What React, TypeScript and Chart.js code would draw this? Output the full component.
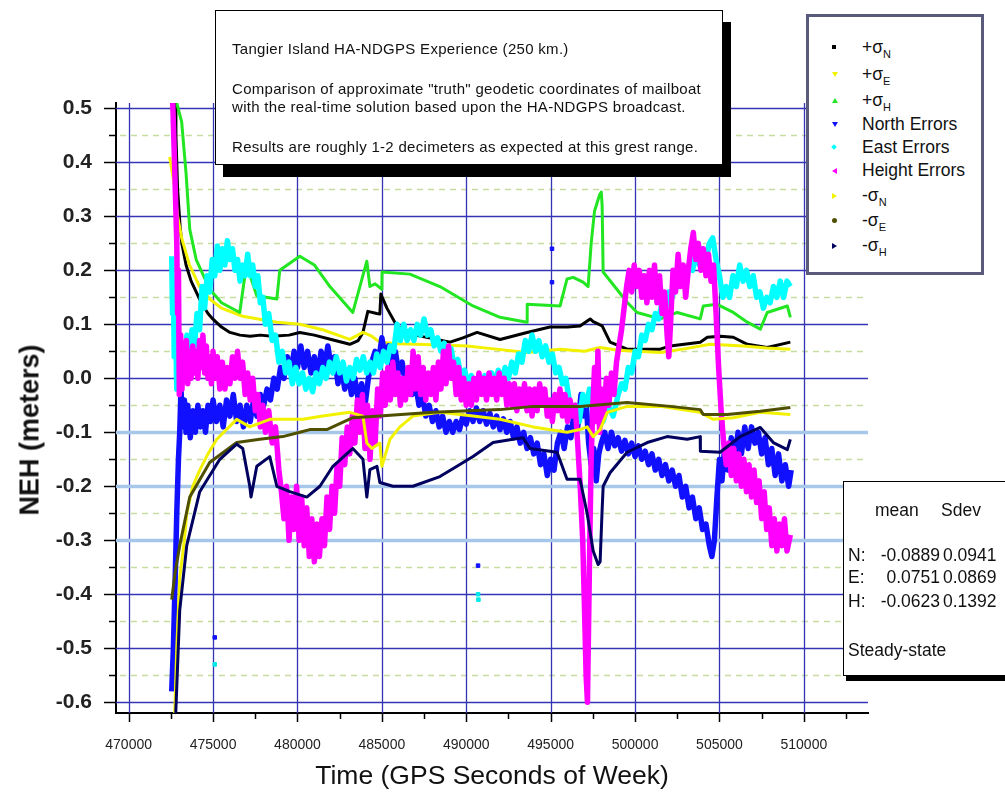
import React, { useEffect, useRef } from 'react';
import { Chart, registerables } from 'chart.js';

Chart.register(...registerables);

type P = [number, number];

// ---------- data (time in GPS seconds of week, value in meters) ----------
const plusSigmaN: P[] = [
  [472750, 0.51], [472800, 0.45], [472900, 0.35], [473050, 0.28], [473150, 0.25], [473400, 0.21],
  [473700, 0.18], [474000, 0.16], [474300, 0.14], [474700, 0.12], [474980, 0.11], [475500, 0.095],
  [476000, 0.085], [476600, 0.08], [477200, 0.078], [477800, 0.08], [478500, 0.078], [479500, 0.08],
  [480140, 0.085], [481000, 0.08], [482000, 0.072], [483100, 0.063], [483600, 0.07], [483880, 0.085],
  [484170, 0.124], [484700, 0.12], [484880, 0.119], [484940, 0.156], [485300, 0.13], [485890, 0.097],
  [487000, 0.08], [489040, 0.067], [489800, 0.075], [490640, 0.085], [492000, 0.072], [493600, 0.085],
  [494960, 0.095], [496000, 0.095], [496740, 0.097], [497340, 0.11], [497520, 0.105], [498050, 0.097],
  [498520, 0.067], [499530, 0.054], [501490, 0.054], [502080, 0.06], [503860, 0.067], [504280, 0.076],
  [505040, 0.078], [505820, 0.076], [506650, 0.063], [507830, 0.057], [509200, 0.067],
];

const plusSigmaE: P[] = [
  [472430, 0.41], [472700, 0.36], [472900, 0.3], [473140, 0.26], [473600, 0.21], [474200, 0.17],
  [474800, 0.147], [475500, 0.13], [476760, 0.115], [478000, 0.108], [478780, 0.104], [480140, 0.1],
  [481500, 0.09], [483100, 0.072], [483880, 0.085], [484400, 0.078], [484880, 0.067], [486000, 0.064],
  [488000, 0.062], [490040, 0.06], [491500, 0.055], [493600, 0.048], [495560, 0.054], [497000, 0.05],
  [497930, 0.057], [499000, 0.052], [501490, 0.048], [503000, 0.055], [504450, 0.063], [506410, 0.06],
  [507800, 0.056], [509200, 0.054],
];

const plusSigmaH: P[] = [
  [472850, 0.51], [473140, 0.475], [473400, 0.38], [473620, 0.276], [474000, 0.22], [474800, 0.165],
  [475500, 0.14], [476580, 0.122], [477000, 0.215], [477300, 0.18], [477590, 0.153], [478780, 0.147],
  [478950, 0.2], [480140, 0.226], [481000, 0.21], [481920, 0.17], [483280, 0.122], [484110, 0.217],
  [484290, 0.17], [484600, 0.175], [485000, 0.165], [485010, 0.197], [486660, 0.193], [488440, 0.17],
  [490400, 0.134], [492000, 0.113], [493600, 0.104], [493610, 0.137], [495560, 0.134], [495970, 0.184],
  [496330, 0.187], [496920, 0.178], [497220, 0.17], [497400, 0.25], [497600, 0.31], [497900, 0.34],
  [498000, 0.345], [498050, 0.32], [498110, 0.197], [499530, 0.141], [500120, 0.122], [501490, 0.11],
  [502500, 0.122], [503860, 0.11], [504040, 0.134], [504860, 0.137], [505820, 0.122], [506650, 0.104],
  [507420, 0.091], [507830, 0.122], [509020, 0.134], [509200, 0.113],
];

const northErrors: P[] = [
  [472550, -0.58], [472650, -0.5], [472750, -0.38], [472850, -0.25], [472950, -0.15], [473025, -0.1],
  [473100, -0.02], [473200, -0.09], [473300, -0.04], [473400, -0.1], [473500, -0.05], [473650, -0.11],
  [473800, -0.06], [473950, -0.1], [474100, -0.05], [474250, -0.09], [474400, -0.06], [474550, -0.1],
  [474700, -0.05], [474850, -0.08], [475000, -0.04], [475200, -0.08], [475400, -0.05], [475600, -0.09],
  [475800, -0.04], [476000, -0.07], [476200, -0.03], [476400, -0.08], [476600, -0.05], [476800, -0.09],
  [477000, -0.05], [477200, -0.08], [477400, -0.04], [477600, -0.07], [477800, -0.03], [478000, -0.05],
  [478200, -0.02], [478400, -0.04], [478600, 0.0], [478800, -0.02], [479000, 0.02], [479200, 0.0],
  [479400, 0.04], [479600, 0.01], [479800, 0.05], [480000, 0.02], [480200, 0.06], [480400, 0.02],
  [480600, 0.05], [480800, 0.01], [481000, 0.04], [481200, 0.0], [481400, 0.05], [481600, 0.02],
  [481800, 0.06], [482000, 0.02], [482200, 0.04], [482400, -0.01], [482600, 0.02], [482800, -0.02],
  [483000, 0.01], [483200, -0.03], [483400, 0.0], [483600, -0.04], [483800, -0.01], [484000, -0.05],
  [484200, 0.0], [484400, 0.03], [484600, 0.05], [484800, 0.03], [485000, 0.075], [485200, 0.04],
  [485400, 0.06], [485600, 0.02], [485800, 0.05], [486000, 0.01], [486200, 0.03], [486400, -0.01],
  [486600, 0.01], [486800, -0.03], [487000, -0.01], [487200, -0.05], [487400, -0.03], [487600, -0.07],
  [487800, -0.05], [488000, -0.08], [488200, -0.06], [488400, -0.09], [488600, -0.07], [488800, -0.1],
  [489000, -0.08], [489200, -0.1], [489400, -0.08], [489600, -0.095], [489800, -0.07], [490000, -0.085],
  [490200, -0.06], [490400, -0.08], [490600, -0.055], [490800, -0.08], [491000, -0.06], [491200, -0.085],
  [491400, -0.065], [491600, -0.09], [491800, -0.07], [492000, -0.095], [492200, -0.075], [492400, -0.1],
  [492600, -0.08], [492800, -0.11], [493000, -0.09], [493200, -0.12], [493400, -0.1], [493600, -0.13],
  [493800, -0.11], [494000, -0.14], [494200, -0.12], [494400, -0.16], [494600, -0.14], [494800, -0.18],
  [495000, -0.15], [495200, -0.17], [495400, -0.12], [495600, -0.1], [495800, -0.13], [496000, -0.09],
  [496200, -0.11], [496400, -0.06], [496600, -0.09], [496800, -0.03], [496950, -0.07], [497100, -0.04],
  [497250, -0.12], [497400, -0.16], [497550, -0.13], [497700, -0.19], [497850, -0.14], [498000, -0.12],
  [498200, -0.1], [498400, -0.13], [498600, -0.1], [498800, -0.125], [499000, -0.11], [499200, -0.135],
  [499400, -0.115], [499600, -0.14], [499800, -0.12], [500000, -0.145], [500200, -0.125], [500400, -0.15],
  [500600, -0.135], [500800, -0.16], [501000, -0.14], [501200, -0.17], [501400, -0.15], [501600, -0.18],
  [501800, -0.16], [502000, -0.19], [502200, -0.17], [502400, -0.2], [502600, -0.18], [502800, -0.22],
  [503000, -0.2], [503200, -0.24], [503400, -0.22], [503600, -0.26], [503800, -0.24], [504000, -0.28],
  [504200, -0.27], [504400, -0.31], [504550, -0.33], [504700, -0.3], [504850, -0.22], [505000, -0.15],
  [505150, -0.19], [505300, -0.13], [505500, -0.17], [505700, -0.11], [505900, -0.15], [506100, -0.1],
  [506300, -0.14], [506500, -0.09], [506700, -0.13], [506900, -0.09], [507100, -0.12], [507300, -0.1],
  [507500, -0.14], [507700, -0.11], [507900, -0.16], [508100, -0.13], [508300, -0.18], [508500, -0.14],
  [508700, -0.19], [508900, -0.16], [509100, -0.2], [509250, -0.17],
];

const northOutliers: P[] = [
  [475100, -0.48], [490700, -0.347], [495080, 0.24], [495080, 0.178],
];

const eastErrors: P[] = [
  [472550, 0.226], [472600, 0.12], [472650, 0.18], [472700, 0.04], [472780, 0.1], [472850, -0.02],
  [472950, 0.02], [473050, -0.01], [473150, 0.05], [473300, 0.02], [473450, 0.08], [473600, 0.04],
  [473750, 0.09], [473900, 0.06], [474050, 0.12], [474200, 0.09], [474350, 0.17], [474500, 0.13],
  [474650, 0.19], [474800, 0.16], [474950, 0.22], [475100, 0.19], [475250, 0.245], [475400, 0.2],
  [475550, 0.24], [475700, 0.21], [475850, 0.255], [476000, 0.22], [476150, 0.24], [476300, 0.2],
  [476450, 0.22], [476600, 0.18], [476750, 0.21], [476900, 0.19], [477050, 0.23], [477200, 0.19],
  [477350, 0.21], [477500, 0.17], [477650, 0.19], [477800, 0.14], [477950, 0.15], [478100, 0.1],
  [478300, 0.12], [478500, 0.07], [478700, 0.08], [478900, 0.03], [479100, 0.05], [479300, 0.01],
  [479500, 0.03], [479700, -0.01], [479900, 0.02], [480100, -0.01], [480300, 0.01], [480500, -0.02],
  [480700, 0.0], [480900, -0.025], [481100, 0.01], [481300, -0.01], [481500, 0.02], [481700, 0.0],
  [481900, 0.03], [482100, 0.01], [482300, 0.04], [482500, 0.01], [482700, 0.03], [482900, -0.005],
  [483100, 0.02], [483300, 0.0], [483500, 0.035], [483700, 0.015], [483900, 0.04], [484100, 0.01],
  [484300, 0.03], [484500, 0.01], [484700, 0.045], [484900, 0.02], [485100, 0.05], [485300, 0.03],
  [485500, 0.06], [485700, 0.05], [485900, 0.1], [486100, 0.07], [486300, 0.1], [486500, 0.07],
  [486700, 0.09], [486900, 0.07], [487100, 0.1], [487300, 0.08], [487500, 0.11], [487700, 0.08],
  [487900, 0.09], [488100, 0.06], [488300, 0.075], [488500, 0.05], [488700, 0.065], [488900, 0.04],
  [489100, 0.055], [489300, 0.02], [489500, 0.035], [489700, 0.0], [489900, 0.015], [490100, -0.01],
  [490300, 0.005], [490500, -0.02], [490700, 0.0], [490900, -0.02], [491100, 0.005], [491300, -0.015],
  [491500, 0.01], [491700, -0.01], [491900, 0.015], [492100, -0.005], [492300, 0.02], [492500, 0.0],
  [492700, 0.03], [492900, 0.01], [493100, 0.045], [493300, 0.03], [493500, 0.07], [493700, 0.05],
  [493900, 0.08], [494100, 0.05], [494300, 0.07], [494500, 0.04], [494700, 0.06], [494900, 0.03],
  [495100, 0.045], [495300, 0.01], [495500, 0.02], [495700, -0.01], [495900, 0.0], [496100, -0.04],
  [496300, -0.06], [496500, -0.05], [496700, -0.08], [496900, -0.03], [497100, -0.05], [497300, -0.02],
  [497500, -0.06], [497800, -0.05], [498100, -0.08], [498400, -0.05], [498700, -0.07], [499000, -0.03],
  [499200, -0.01], [499400, -0.02], [499600, 0.02], [499800, 0.01], [500000, 0.05], [500200, 0.04],
  [500400, 0.08], [500600, 0.07], [500800, 0.1], [501000, 0.09], [501200, 0.12], [501400, 0.11],
  [501600, 0.14], [501800, 0.13], [502000, 0.16], [502200, 0.15], [502400, 0.18], [502600, 0.17],
  [502800, 0.2], [503000, 0.19], [503200, 0.21], [503400, 0.2], [503600, 0.23], [503800, 0.21],
  [504000, 0.24], [504200, 0.22], [504400, 0.25], [504600, 0.26], [504800, 0.22], [505000, 0.19],
  [505200, 0.15], [505400, 0.17], [505600, 0.15], [505800, 0.19], [506000, 0.17], [506200, 0.21],
  [506400, 0.18], [506600, 0.2], [506800, 0.17], [507000, 0.19], [507200, 0.15], [507400, 0.16],
  [507600, 0.13], [507800, 0.15], [508000, 0.14], [508200, 0.17], [508400, 0.15], [508600, 0.18],
  [508800, 0.15], [509000, 0.18], [509200, 0.17],
];

const eastOutliers: P[] = [
  [475100, -0.53], [490700, -0.4], [490720, -0.41],
];

const heightErrors: P[] = [
  [472610, 0.51], [472700, 0.42], [472780, 0.33], [472850, 0.25], [472900, 0.12], [472950, 0.2],
  [473000, -0.03], [473080, 0.08], [473160, -0.02], [473250, 0.06], [473330, 0.0], [473420, 0.07],
  [473500, -0.01], [473600, 0.05], [473700, 0.0], [473800, 0.06], [473900, 0.01], [474000, 0.05],
  [474100, 0.0], [474200, 0.07], [474300, 0.02], [474400, 0.08], [474500, 0.01], [474600, 0.06],
  [474700, 0.0], [474800, 0.04], [474900, -0.01], [475000, 0.05], [475100, 0.0], [475250, 0.04],
  [475400, -0.02], [475550, 0.03], [475700, -0.02], [475850, 0.02], [476000, -0.01], [476150, 0.04],
  [476300, 0.0], [476450, 0.05], [476600, 0.0], [476750, 0.03], [476900, -0.03], [477050, 0.01],
  [477200, -0.04], [477350, 0.0], [477500, -0.06], [477650, -0.03], [477800, -0.09], [477950, -0.05],
  [478100, -0.1], [478300, -0.06], [478500, -0.12], [478700, -0.09], [478900, -0.17], [479050, -0.21],
  [479200, -0.26], [479350, -0.2], [479500, -0.3], [479650, -0.22], [479800, -0.28], [479950, -0.2],
  [480100, -0.3], [480250, -0.22], [480400, -0.31], [480550, -0.24], [480700, -0.33], [480850, -0.26],
  [481000, -0.34], [481150, -0.27], [481300, -0.33], [481450, -0.26], [481600, -0.31], [481750, -0.22],
  [481900, -0.28], [482050, -0.2], [482200, -0.25], [482350, -0.16], [482500, -0.2], [482650, -0.11],
  [482800, -0.16], [482950, -0.09], [483100, -0.14], [483250, -0.07], [483400, -0.12], [483550, -0.04],
  [483700, -0.1], [483850, -0.03], [484000, -0.13], [484150, -0.05], [484300, -0.15], [484450, -0.06],
  [484600, -0.12], [484750, -0.02], [484900, -0.07], [485050, 0.01], [485200, -0.05], [485350, 0.02],
  [485500, -0.04], [485650, 0.03], [485800, -0.03], [485950, 0.01], [486100, -0.05], [486250, 0.0],
  [486400, -0.04], [486550, 0.02], [486700, -0.03], [486850, 0.05], [487000, -0.02], [487150, 0.04],
  [487300, -0.03], [487450, 0.02], [487600, -0.04], [487750, 0.01], [487900, -0.03], [488050, 0.02],
  [488200, -0.04], [488350, 0.03], [488500, -0.02], [488650, 0.05], [488800, -0.01], [488950, 0.06],
  [489100, 0.0], [489250, 0.03], [489400, -0.03], [489550, 0.02], [489700, -0.04], [489850, 0.0],
  [490000, -0.05], [490150, -0.01], [490300, -0.05], [490450, 0.0], [490600, -0.04], [490750, 0.01],
  [490900, -0.03], [491050, 0.0], [491200, -0.04], [491350, 0.01], [491500, -0.03], [491650, 0.0],
  [491800, -0.04], [491950, 0.01], [492100, -0.03], [492250, 0.0], [492400, -0.05], [492550, -0.01],
  [492700, -0.05], [492850, -0.01], [493000, -0.06], [493150, -0.02], [493300, -0.05], [493450, -0.01],
  [493600, -0.06], [493750, -0.02], [493900, -0.07], [494050, -0.02], [494200, -0.06], [494350, -0.01],
  [494500, -0.05], [494650, -0.02], [494800, -0.07], [494950, -0.04], [495100, -0.08], [495250, -0.03],
  [495400, -0.06], [495550, -0.02], [495700, -0.07], [495850, -0.03], [496000, -0.08], [496150, -0.04],
  [496300, -0.07], [496450, -0.05], [496600, -0.12], [496750, -0.2], [496900, -0.3], [497000, -0.42],
  [497100, -0.55], [497180, -0.6], [497250, -0.45], [497320, -0.3], [497400, -0.15], [497500, -0.05],
  [497600, 0.02], [497700, -0.08], [497800, 0.05], [497900, -0.1], [498000, -0.02], [498150, -0.07],
  [498300, 0.0], [498450, -0.05], [498600, 0.01], [498750, -0.03], [498900, 0.03], [499050, 0.06],
  [499200, 0.09], [499350, 0.13], [499500, 0.17], [499650, 0.2], [499800, 0.16], [499950, 0.21],
  [500100, 0.17], [500250, 0.2], [500400, 0.15], [500550, 0.19], [500700, 0.14], [500850, 0.2],
  [501000, 0.15], [501150, 0.21], [501300, 0.14], [501450, 0.19], [501600, 0.12], [501750, 0.16],
  [501900, 0.08], [502000, 0.04], [502100, 0.1], [502250, 0.2], [502400, 0.16], [502550, 0.23],
  [502700, 0.17], [502850, 0.21], [503000, 0.15], [503150, 0.2], [503300, 0.24], [503450, 0.27],
  [503600, 0.22], [503750, 0.25], [503900, 0.2], [504050, 0.24], [504200, 0.19], [504350, 0.23],
  [504500, 0.18], [504650, 0.21], [504800, 0.12], [504950, 0.02], [505100, -0.06], [505250, -0.12],
  [505400, -0.16], [505550, -0.12], [505700, -0.18], [505850, -0.13], [506000, -0.19], [506150, -0.14],
  [506300, -0.2], [506450, -0.15], [506600, -0.21], [506750, -0.16], [506900, -0.22], [507050, -0.17],
  [507200, -0.23], [507350, -0.19], [507500, -0.26], [507650, -0.21], [507800, -0.28], [507950, -0.24],
  [508100, -0.31], [508250, -0.26], [508400, -0.32], [508550, -0.27], [508700, -0.31], [508850, -0.26],
  [509000, -0.32], [509200, -0.29],
];

const minusSigmaN: P[] = [
  [472730, -0.62], [472850, -0.5], [473025, -0.37], [473300, -0.3], [473440, -0.25], [473800, -0.2],
  [474210, -0.17], [474700, -0.14], [475220, -0.113], [476400, -0.076], [477175, -0.09], [478360, -0.076],
  [480320, -0.076], [481500, -0.07], [483100, -0.063], [483880, -0.07], [484110, -0.12], [484410, -0.13],
  [484880, -0.12], [485000, -0.163], [485480, -0.113], [486070, -0.09], [486840, -0.07], [488440, -0.063],
  [490400, -0.07], [492000, -0.076], [493960, -0.09], [495970, -0.1], [496740, -0.095], [497160, -0.09],
  [497520, -0.108], [497930, -0.095], [498350, -0.063], [499530, -0.052], [501490, -0.052], [503860, -0.063],
  [504630, -0.076], [505820, -0.073], [507420, -0.063], [509200, -0.067],
];

const minusSigmaE: P[] = [
  [472550, -0.41], [472750, -0.36], [473025, -0.31], [473620, -0.22], [474800, -0.156], [476400, -0.119],
  [477770, -0.113], [479130, -0.108], [480140, -0.1], [480730, -0.095], [481740, -0.095], [483280, -0.073],
  [484880, -0.07], [488030, -0.063], [492000, -0.058], [493960, -0.052], [496740, -0.052], [499530, -0.045],
  [502080, -0.052], [503860, -0.058], [504040, -0.067], [505460, -0.067], [507420, -0.061], [509200, -0.054],
];

const minusSigmaH: P[] = [
  [472790, -0.62], [473025, -0.43], [473440, -0.31], [474210, -0.21], [475400, -0.15], [476400, -0.122],
  [476760, -0.13], [477175, -0.2], [477250, -0.22], [477590, -0.163], [478360, -0.145], [478780, -0.2],
  [479550, -0.21], [480555, -0.22], [481330, -0.2], [482100, -0.163], [483280, -0.13], [483880, -0.15],
  [484110, -0.22], [484290, -0.169], [484710, -0.163], [484880, -0.193], [485660, -0.2], [486840, -0.2],
  [488440, -0.182], [489450, -0.163], [490400, -0.145], [491590, -0.119], [492770, -0.113], [493360, -0.11],
  [493780, -0.13], [495380, -0.137], [495970, -0.187], [496740, -0.187], [497160, -0.25], [497520, -0.32],
  [497810, -0.345], [497930, -0.34], [498050, -0.243], [498110, -0.2], [498520, -0.175], [499530, -0.137],
  [500720, -0.119], [501900, -0.108], [503090, -0.113], [503860, -0.108], [503870, -0.135], [505040, -0.137],
  [506230, -0.108], [507420, -0.091], [508190, -0.119], [509020, -0.132], [509200, -0.113],
];

// ---------- axes ----------
const xMin = 469250;
const xMax = 513800;
const yMin = -0.62;
const yMax = 0.51;
const xMajorTicks = [470000, 475000, 480000, 485000, 490000, 495000, 500000, 505000, 510000];
const xMinorTicks = [472500, 477500, 482500, 487500, 492500, 497500, 502500, 507500, 512500];
const yMajorTicks = [0.5, 0.4, 0.3, 0.2, 0.1, 0.0, -0.1, -0.2, -0.3, -0.4, -0.5, -0.6];
const yMinorTicks = [0.45, 0.35, 0.25, 0.15, 0.05, -0.05, -0.15, -0.25, -0.35, -0.45, -0.55];
const yLightLines = [-0.1, -0.2, -0.3];

const FONT = "'Liberation Sans', Arial, sans-serif";

type Marker = 'square' | 'tri-up' | 'tri-down' | 'tri-left' | 'tri-right' | 'circle' | 'diamond';

const SERIES: { name: string; sign?: string; sub?: string; data: P[]; color: string; width: number; marker: Marker }[] = [
  { name: '+σN', sign: '+σ', sub: 'N', data: plusSigmaN, color: '#000000', width: 3, marker: 'square' },
  { name: '+σE', sign: '+σ', sub: 'E', data: plusSigmaE, color: '#f2f200', width: 3, marker: 'tri-down' },
  { name: '+σH', sign: '+σ', sub: 'H', data: plusSigmaH, color: '#22e622', width: 3, marker: 'tri-up' },
  { name: 'North Errors', data: northErrors, color: '#1010ff', width: 5.5, marker: 'tri-down' },
  { name: 'East Errors', data: eastErrors, color: '#00ffff', width: 5.5, marker: 'diamond' },
  { name: 'Height Errors', data: heightErrors, color: '#ff00ff', width: 5.5, marker: 'tri-left' },
  { name: '-σN', sign: '-σ', sub: 'N', data: minusSigmaN, color: '#f2f200', width: 3, marker: 'tri-right' },
  { name: '-σE', sign: '-σ', sub: 'E', data: minusSigmaE, color: '#4f4f00', width: 3, marker: 'circle' },
  { name: '-σH', sign: '-σ', sub: 'H', data: minusSigmaH, color: '#00005e', width: 3, marker: 'tri-right' },
];

const LEGEND_ROWS = [47, 74, 100, 124, 147, 170, 195, 220, 245];

const gridPlugin = {
  id: 'customGrid',
  beforeDatasetsDraw(chart: any) {
    const { ctx, chartArea: a, scales } = chart;
    const x = scales.x;
    const y = scales.y;
    ctx.save();
    ctx.setLineDash([6, 5]);
    ctx.strokeStyle = '#c6dca0';
    ctx.lineWidth = 1.5;
    for (const v of yMinorTicks) {
      const py = Math.round(y.getPixelForValue(v)) + 0.5;
      ctx.beginPath();
      ctx.moveTo(a.left + 4, py);
      ctx.lineTo(a.right, py);
      ctx.stroke();
    }
    ctx.setLineDash([]);
    ctx.strokeStyle = '#3434b4';
    ctx.lineWidth = 1.3;
    for (const v of xMajorTicks) {
      const px = Math.round(x.getPixelForValue(v)) + 0.5;
      ctx.beginPath();
      ctx.moveTo(px, a.top);
      ctx.lineTo(px, a.bottom);
      ctx.stroke();
    }
    for (const v of yMajorTicks) {
      const light = yLightLines.some((l) => Math.abs(l - v) < 1e-9);
      const py = Math.round(y.getPixelForValue(v)) + 0.5;
      ctx.strokeStyle = light ? '#a6c6ea' : '#3434b4';
      ctx.lineWidth = light ? 3.5 : 1.3;
      ctx.beginPath();
      ctx.moveTo(a.left, py);
      ctx.lineTo(a.right, py);
      ctx.stroke();
    }
    ctx.restore();
  },
  afterDraw(chart: any) {
    const { ctx, chartArea: a, scales } = chart;
    const x = scales.x;
    const y = scales.y;
    ctx.save();
    ctx.strokeStyle = '#000';
    ctx.lineWidth = 1.5;
    const drawY = (v: number, len: number) => {
      const py = Math.round(y.getPixelForValue(v)) + 0.5;
      ctx.beginPath();
      ctx.moveTo(a.left - len, py);
      ctx.lineTo(a.left, py);
      ctx.stroke();
    };
    const drawX = (v: number, len: number) => {
      const px = Math.round(x.getPixelForValue(v)) + 0.5;
      ctx.beginPath();
      ctx.moveTo(px, a.bottom);
      ctx.lineTo(px, a.bottom + len);
      ctx.stroke();
    };
    yMajorTicks.forEach((v) => drawY(v, 12));
    yMinorTicks.forEach((v) => drawY(v, 7));
    xMajorTicks.forEach((v) => drawX(v, 9));
    xMinorTicks.forEach((v) => drawX(v, 6));
    ctx.fillStyle = '#222';
    ctx.font = `14px ${FONT}`;
    ctx.textAlign = 'center';
    ctx.textBaseline = 'middle';
    xMajorTicks.forEach((v) => {
      ctx.fillText(String(v), x.getPixelForValue(v), a.bottom + 32);
    });
    ctx.restore();
  },
};

function MarkerIcon({ shape, color }: { shape: Marker; color: string }) {
  const base: React.CSSProperties = { position: 'absolute', left: 0, top: 0, width: 0, height: 0 };
  let st: React.CSSProperties;
  switch (shape) {
    case 'square':
      st = { ...base, width: 4, height: 4, background: color };
      break;
    case 'circle':
      st = { ...base, width: 5, height: 5, borderRadius: 3, background: color };
      break;
    case 'diamond':
      st = { ...base, width: 4, height: 4, background: color, transform: 'rotate(45deg)' };
      break;
    case 'tri-up':
      st = { ...base, borderLeft: '3px solid transparent', borderRight: '3px solid transparent', borderBottom: `5px solid ${color}` };
      break;
    case 'tri-down':
      st = { ...base, borderLeft: '3px solid transparent', borderRight: '3px solid transparent', borderTop: `5px solid ${color}` };
      break;
    case 'tri-left':
      st = { ...base, borderTop: '3px solid transparent', borderBottom: '3px solid transparent', borderRight: `5px solid ${color}` };
      break;
    default:
      st = { ...base, borderTop: '3px solid transparent', borderBottom: '3px solid transparent', borderLeft: `5px solid ${color}` };
  }
  return <span style={st} />;
}

export default function App() {
  const ref = useRef<HTMLCanvasElement>(null);

  useEffect(() => {
    if (!ref.current) return;
    const datasets: any[] = SERIES.map((s, i) => ({
      label: s.name,
      data: s.data.map(([t, v]) => ({ x: t, y: v })),
      borderColor: s.color,
      backgroundColor: s.color,
      borderWidth: s.width,
      borderJoinStyle: 'round',
      pointRadius: 0,
      fill: false,
      tension: 0,
      order: 20 - i,
    }));
    datasets.push({
      label: 'North outliers',
      data: northOutliers.map(([t, v]) => ({ x: t, y: v })),
      borderColor: '#1010ff',
      backgroundColor: '#1010ff',
      showLine: false,
      pointRadius: 2.5,
      pointStyle: 'rect',
      order: 16,
    });
    datasets.push({
      label: 'East outliers',
      data: eastOutliers.map(([t, v]) => ({ x: t, y: v })),
      borderColor: '#00e8e8',
      backgroundColor: '#00e8e8',
      showLine: false,
      pointRadius: 2.5,
      pointStyle: 'rect',
      order: 15,
    });

    const chart = new Chart(ref.current, {
      type: 'line',
      data: { datasets },
      options: {
        animation: false,
        responsive: false,
        devicePixelRatio: 1,
        layout: { padding: { top: 103, right: 137, left: 0, bottom: 0 } },
        plugins: { legend: { display: false }, tooltip: { enabled: false } },
        scales: {
          x: {
            type: 'linear',
            min: xMin,
            max: xMax,
            afterFit: (s: any) => {
              s.height = 81;
            },
            ticks: { display: false, stepSize: 2500, includeBounds: false },
            grid: { display: true, drawOnChartArea: false, drawTicks: false },
            border: { display: true, color: '#000', width: 2 },
            title: {
              display: true,
              text: 'Time (GPS Seconds of Week)',
              color: '#111',
              font: { family: FONT, size: 26.5 },
              padding: { top: 0, bottom: 1 },
            },
          },
          y: {
            type: 'linear',
            min: yMin,
            max: yMax,
            afterFit: (s: any) => {
              s.width = 116;
            },
            ticks: {
              stepSize: 0.05,
              includeBounds: false,
              autoSkip: false,
              padding: 24,
              color: '#222',
              font: { family: FONT, size: 21, weight: 'bold' },
              callback: (v: any) => {
                const n = Number(v);
                const r = Math.round(n * 10) / 10;
                return Math.abs(r - n) < 1e-6 ? (r === 0 ? '0.0' : r.toFixed(1)) : '';
              },
            },
            grid: { display: true, drawOnChartArea: false, drawTicks: false },
            border: { display: true, color: '#000', width: 2 },
          },
        },
      },
      plugins: [gridPlugin],
    });
    return () => chart.destroy();
  }, []);

  return (
    <div
      style={{
        position: 'absolute',
        left: 0,
        top: 0,
        width: 1005,
        height: 794,
        overflow: 'hidden',
        background: '#fff',
        fontFamily: FONT,
        color: '#111',
      }}
    >
      <canvas ref={ref} width={1005} height={794} style={{ position: 'absolute', left: 0, top: 0, width: 1005, height: 794 }} />

      <div
        style={{
          position: 'absolute',
          left: 30,
          top: 430,
          transform: 'translate(-50%, -50%) rotate(-90deg)',
          whiteSpace: 'nowrap',
          fontSize: 27,
          fontWeight: 'bold',
          color: '#111',
        }}
      >
        NEH (meters)
      </div>

      <div
        style={{
          position: 'absolute',
          left: 215,
          top: 10,
          width: 508,
          height: 155,
          boxSizing: 'border-box',
          border: '1px solid #000',
          background: '#fff',
          boxShadow: '8px 12px 0 #000',
          fontSize: 15,
          letterSpacing: '0.3px',
          color: '#111',
        }}
      >
        {[
          { cy: 48, t: 'Tangier Island HA-NDGPS Experience (250 km.)' },
          { cy: 88, t: 'Comparison of approximate "truth" geodetic coordinates of mailboat' },
          { cy: 106, t: 'with the real-time solution based upon the HA-NDGPS broadcast.' },
          { cy: 146, t: 'Results are roughly 1-2 decimeters as expected at this grest range.' },
        ].map((l, i) => (
          <div key={i} style={{ position: 'absolute', left: 16, top: l.cy - 10 - 9, lineHeight: '18px', whiteSpace: 'nowrap' }}>
            {l.t}
          </div>
        ))}
      </div>

      <div
        style={{
          position: 'absolute',
          left: 806,
          top: 14,
          width: 178,
          height: 261,
          boxSizing: 'border-box',
          border: '3px solid #5a5a7c',
          background: '#fff',
        }}
      >
        {SERIES.map((s, i) => (
          <div key={i} style={{ position: 'absolute', left: 0, top: LEGEND_ROWS[i] - 17 - 10, height: 20, width: 170 }}>
            <span style={{ position: 'absolute', left: 23, top: 8 }}>
              <MarkerIcon shape={s.marker} color={s.color} />
            </span>
            <span style={{ position: 'absolute', left: 53, top: 0, fontSize: 17.5, lineHeight: '20px', whiteSpace: 'nowrap', color: '#111' }}>
              {s.sign ? (
                <>
                  {s.sign}
                  <sub style={{ fontSize: 11, verticalAlign: '-5px' }}>{s.sub}</sub>
                </>
              ) : (
                s.name
              )}
            </span>
          </div>
        ))}
      </div>

      <div
        style={{
          position: 'absolute',
          left: 843,
          top: 481,
          width: 180,
          height: 195,
          boxSizing: 'border-box',
          border: '1px solid #000',
          background: '#fff',
          boxShadow: '3px 5px 0 #000',
          fontSize: 17.5,
          color: '#111',
          whiteSpace: 'nowrap',
        }}
      >
        <span style={{ position: 'absolute', left: 31, top: 29 - 11 }}>mean</span>
        <span style={{ position: 'absolute', left: 97, top: 29 - 11 }}>Sdev</span>
        {[
          { cy: 74, l: 'N:', a: '-0.0889', b: '0.0941' },
          { cy: 96, l: 'E:', a: '0.0751', b: '0.0869' },
          { cy: 120, l: 'H:', a: '-0.0623', b: '0.1392' },
        ].map((r, i) => (
          <React.Fragment key={i}>
            <span style={{ position: 'absolute', left: 4, top: r.cy - 11 }}>{r.l}</span>
            <span style={{ position: 'absolute', left: 24, width: 72, textAlign: 'right', top: r.cy - 11 }}>{r.a}</span>
            <span style={{ position: 'absolute', left: 99, top: r.cy - 11 }}>{r.b}</span>
          </React.Fragment>
        ))}
        <span style={{ position: 'absolute', left: 4, top: 169 - 11 }}>Steady-state</span>
      </div>
    </div>
  );
}
